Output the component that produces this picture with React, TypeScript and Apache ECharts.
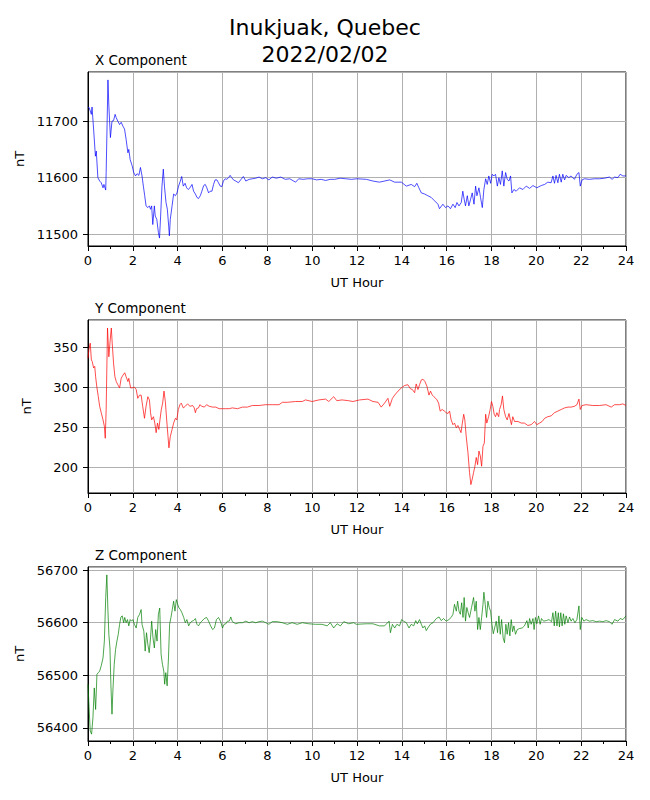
import React, { useEffect, useRef } from "react";
import * as echarts from "echarts";

const mainTitle = ["Inukjuak, Quebec", "2022/02/02"];
const panelTitles = ["X Component", "Y Component", "Z Component"];
const xAxisName = "UT Hour";
const yAxisName = "nT";
const hourRange = [0, 24];
const hourStep = 2;
const yRanges = [
  [11479, 11787],
  [167.5, 384],
  [56375, 56706],
];
const ySteps = [100, 50, 100];
const colors = ["#0000ff", "#ff0000", "#008000"];

// [UT hour, nT]
const xComponent = [
  [0, 11724], [0.05, 11724], [0.15, 11712], [0.18, 11725], [0.25, 11686], [0.33, 11638], [0.37, 11647], [0.44, 11600],
  [0.52, 11594], [0.59, 11591], [0.67, 11582], [0.71, 11588], [0.79, 11578], [0.81, 11609], [0.89, 11773], [0.93, 11727],
  [1.0, 11671], [1.07, 11700], [1.14, 11701], [1.21, 11712], [1.26, 11706], [1.33, 11700], [1.41, 11694], [1.48, 11698],
  [1.56, 11691], [1.63, 11686], [1.7, 11668], [1.78, 11644], [1.82, 11650], [1.88, 11632], [1.97, 11621], [2.04, 11609],
  [2.12, 11603], [2.19, 11607], [2.27, 11604], [2.34, 11618], [2.41, 11603], [2.47, 11585], [2.53, 11568], [2.59, 11550],
  [2.67, 11547], [2.74, 11550], [2.79, 11544], [2.84, 11550], [2.89, 11517], [2.96, 11550], [3.0, 11532], [3.07, 11526],
  [3.14, 11503], [3.19, 11493], [3.24, 11532], [3.3, 11585], [3.36, 11615], [3.41, 11585], [3.48, 11556], [3.54, 11544],
  [3.6, 11514], [3.63, 11497], [3.67, 11526], [3.75, 11550], [3.82, 11571], [3.9, 11568], [3.97, 11573], [4.04, 11585],
  [4.12, 11594], [4.18, 11602], [4.25, 11585], [4.33, 11590], [4.4, 11582], [4.47, 11579], [4.55, 11582], [4.64, 11588],
  [4.71, 11576], [4.79, 11571], [4.86, 11565], [4.93, 11563], [5.01, 11568], [5.08, 11576], [5.16, 11586], [5.23, 11588],
  [5.3, 11582], [5.38, 11573], [5.45, 11576], [5.53, 11576], [5.6, 11588], [5.67, 11596], [5.75, 11596], [5.82, 11591],
  [5.9, 11585], [5.97, 11584], [6.04, 11594], [6.12, 11598], [6.19, 11597], [6.27, 11600], [6.34, 11604], [6.41, 11600],
  [6.49, 11596], [6.59, 11594], [6.71, 11591], [6.81, 11596], [6.93, 11602], [7.04, 11594], [7.19, 11597], [7.33, 11598],
  [7.48, 11599], [7.63, 11601], [7.78, 11598], [7.93, 11600], [8.07, 11596], [8.22, 11601], [8.4, 11599], [8.6, 11601],
  [8.8, 11597], [9.0, 11598], [9.26, 11592], [9.4, 11598], [9.6, 11597], [9.8, 11598], [10.0, 11598], [10.2, 11596],
  [10.4, 11597], [10.6, 11595], [10.8, 11597], [11.0, 11597], [11.25, 11599], [11.5, 11598], [11.75, 11597], [12.0, 11598],
  [12.42, 11597], [12.71, 11594], [13.0, 11592], [13.46, 11596], [13.68, 11592], [13.98, 11592], [14.2, 11585], [14.42, 11588],
  [14.57, 11584], [14.67, 11590], [14.76, 11582], [14.87, 11573], [15.02, 11571], [15.16, 11568], [15.31, 11565], [15.46, 11559],
  [15.61, 11553], [15.68, 11545], [15.83, 11553], [15.95, 11547], [16.06, 11550], [16.17, 11545], [16.28, 11553], [16.38, 11547],
  [16.46, 11556], [16.55, 11550], [16.65, 11556], [16.72, 11576], [16.78, 11562], [16.84, 11550], [16.92, 11568], [16.99, 11550],
  [17.07, 11562], [17.14, 11573], [17.22, 11553], [17.29, 11585], [17.35, 11568], [17.44, 11582], [17.51, 11565], [17.59, 11547],
  [17.66, 11579], [17.74, 11598], [17.81, 11588], [17.88, 11603], [17.96, 11590], [18.03, 11606], [18.11, 11603], [18.18, 11606],
  [18.26, 11585], [18.33, 11600], [18.4, 11588], [18.48, 11612], [18.55, 11585], [18.63, 11609], [18.7, 11597], [18.78, 11594],
  [18.85, 11603], [18.91, 11573], [19.0, 11579], [19.1, 11576], [19.25, 11582], [19.4, 11579], [19.55, 11585], [19.7, 11581],
  [19.85, 11586], [20.02, 11582], [20.22, 11586], [20.37, 11588], [20.51, 11592], [20.66, 11591], [20.74, 11603], [20.81, 11590],
  [20.88, 11604], [20.96, 11591], [21.03, 11606], [21.11, 11592], [21.18, 11606], [21.26, 11596], [21.33, 11604], [21.45, 11600],
  [21.55, 11603], [21.7, 11597], [21.81, 11606], [21.9, 11609], [21.96, 11585], [22.04, 11596], [22.15, 11598], [22.37, 11597],
  [22.59, 11598], [22.82, 11598], [23.04, 11599], [23.26, 11601], [23.38, 11597], [23.49, 11601], [23.64, 11600], [23.74, 11606],
  [23.86, 11603], [24.0, 11603],
];

const yComponent = [
  [0, 336], [0.04, 347], [0.1, 355], [0.15, 334], [0.19, 332], [0.25, 324], [0.3, 326], [0.34, 313], [0.4, 299], [0.46, 288],
  [0.52, 276], [0.59, 268], [0.67, 259], [0.73, 251], [0.77, 236], [0.81, 272], [0.87, 374], [0.93, 338], [0.99, 359], [1.04, 374],
  [1.08, 355], [1.14, 330], [1.2, 313], [1.26, 307], [1.33, 303], [1.41, 299], [1.48, 311], [1.56, 315], [1.64, 318], [1.7, 313],
  [1.78, 307], [1.82, 311], [1.9, 299], [1.97, 299], [2.07, 300], [2.15, 297], [2.22, 286], [2.3, 290], [2.37, 290], [2.44, 276],
  [2.52, 261], [2.59, 276], [2.67, 288], [2.74, 284], [2.79, 268], [2.84, 259], [2.92, 263], [2.98, 255], [3.04, 243], [3.1, 255],
  [3.16, 247], [3.21, 259], [3.27, 272], [3.33, 280], [3.39, 295], [3.45, 282], [3.51, 259], [3.57, 238], [3.61, 224], [3.67, 238],
  [3.75, 247], [3.82, 255], [3.9, 261], [3.96, 259], [4.03, 272], [4.1, 278], [4.16, 280], [4.25, 274], [4.34, 276], [4.44, 279],
  [4.55, 276], [4.67, 277], [4.74, 274], [4.79, 268], [4.84, 273], [4.93, 274], [4.99, 278], [5.08, 276], [5.19, 275], [5.29, 278],
  [5.41, 276], [5.56, 275], [5.7, 275], [5.85, 273], [6.0, 273], [6.15, 273], [6.3, 273], [6.44, 274], [6.67, 273], [6.89, 275],
  [7.11, 275], [7.33, 277], [7.63, 277], [7.93, 278], [8.22, 278], [8.52, 278], [8.67, 281], [8.89, 281], [9.26, 282], [9.56, 282],
  [9.7, 284], [10.0, 282], [10.3, 284], [10.6, 285], [10.74, 282], [10.96, 288], [11.1, 283], [11.33, 284], [11.63, 283], [11.82, 282],
  [12.12, 284], [12.49, 285], [12.71, 282], [12.94, 281], [13.08, 275], [13.23, 280], [13.38, 286], [13.46, 276], [13.58, 286], [13.68, 290],
  [13.83, 295], [13.98, 299], [14.12, 302], [14.27, 303], [14.38, 298], [14.47, 297], [14.57, 293], [14.64, 304], [14.72, 297], [14.79, 303],
  [14.87, 309], [14.94, 310], [15.03, 307], [15.12, 301], [15.21, 290], [15.28, 295], [15.36, 290], [15.43, 288], [15.51, 286], [15.57, 284],
  [15.64, 280], [15.71, 270], [15.8, 272], [15.9, 270], [15.98, 268], [16.06, 267], [16.13, 270], [16.2, 259], [16.28, 253], [16.35, 255],
  [16.43, 249], [16.5, 252], [16.58, 247], [16.64, 243], [16.7, 255], [16.76, 266], [16.81, 259], [16.87, 239], [16.95, 218], [17.02, 193],
  [17.08, 178], [17.14, 185], [17.2, 193], [17.26, 201], [17.32, 212], [17.38, 203], [17.44, 220], [17.5, 214], [17.56, 201], [17.62, 226],
  [17.68, 230], [17.74, 266], [17.79, 255], [17.87, 263], [17.94, 272], [18.0, 282], [18.06, 276], [18.12, 266], [18.18, 263], [18.24, 268],
  [18.32, 263], [18.36, 272], [18.43, 278], [18.49, 289], [18.55, 272], [18.63, 263], [18.7, 259], [18.78, 267], [18.84, 259], [18.89, 253],
  [18.95, 263], [19.03, 257], [19.18, 257], [19.33, 255], [19.47, 255], [19.62, 252], [19.77, 253], [19.92, 257], [20.02, 253], [20.14, 255],
  [20.26, 257], [20.37, 261], [20.51, 263], [20.66, 264], [20.81, 268], [20.96, 270], [21.11, 272], [21.26, 274], [21.41, 275], [21.55, 275],
  [21.7, 276], [21.81, 278], [21.9, 285], [21.96, 272], [22.04, 277], [22.22, 278], [22.52, 277], [22.82, 277], [23.11, 278], [23.34, 275],
  [23.49, 278], [23.71, 278], [23.86, 279], [24.0, 277],
];

const zComponent = [
  [0, 56483], [0.04, 56445], [0.1, 56394], [0.16, 56388], [0.22, 56419], [0.28, 56476], [0.34, 56435], [0.4, 56502], [0.46, 56505],
  [0.52, 56508], [0.59, 56518], [0.67, 56533], [0.73, 56565], [0.79, 56648], [0.84, 56691], [0.89, 56622], [0.93, 56578], [0.98, 56552],
  [1.02, 56483], [1.07, 56426], [1.11, 56470], [1.17, 56521], [1.23, 56549], [1.29, 56565], [1.35, 56578], [1.41, 56597], [1.47, 56611],
  [1.53, 56613], [1.59, 56600], [1.64, 56610], [1.7, 56600], [1.76, 56606], [1.82, 56594], [1.88, 56606], [1.94, 56603], [2.0, 56606],
  [2.07, 56597], [2.15, 56590], [2.22, 56610], [2.3, 56616], [2.37, 56625], [2.41, 56597], [2.49, 56584], [2.55, 56546], [2.61, 56581],
  [2.67, 56559], [2.73, 56543], [2.79, 56571], [2.84, 56603], [2.9, 56571], [2.96, 56552], [3.02, 56587], [3.08, 56565], [3.14, 56616],
  [3.2, 56628], [3.26, 56540], [3.32, 56521], [3.38, 56508], [3.42, 56483], [3.47, 56505], [3.53, 56480], [3.59, 56533], [3.64, 56597],
  [3.7, 56610], [3.76, 56625], [3.82, 56641], [3.88, 56622], [3.94, 56644], [4.0, 56635], [4.06, 56628], [4.12, 56625], [4.19, 56619],
  [4.27, 56610], [4.34, 56600], [4.41, 56606], [4.49, 56594], [4.56, 56600], [4.64, 56603], [4.71, 56604], [4.79, 56608], [4.86, 56597],
  [4.93, 56594], [5.01, 56600], [5.08, 56603], [5.19, 56608], [5.29, 56610], [5.38, 56603], [5.47, 56594], [5.56, 56587], [5.64, 56590],
  [5.73, 56606], [5.82, 56610], [5.91, 56603], [6.0, 56590], [6.07, 56597], [6.15, 56598], [6.22, 56603], [6.3, 56603], [6.37, 56611],
  [6.44, 56602], [6.59, 56598], [6.74, 56600], [6.89, 56600], [7.04, 56603], [7.19, 56600], [7.33, 56602], [7.48, 56600], [7.63, 56602],
  [7.78, 56603], [7.93, 56600], [8.07, 56597], [8.22, 56602], [8.44, 56602], [8.67, 56600], [8.89, 56597], [9.11, 56600], [9.33, 56597],
  [9.56, 56600], [9.85, 56598], [10.15, 56597], [10.44, 56597], [10.67, 56594], [10.81, 56600], [10.96, 56590], [11.11, 56598],
  [11.26, 56594], [11.41, 56602], [11.63, 56598], [11.85, 56600], [11.97, 56597], [12.42, 56598], [12.71, 56598], [13.0, 56594],
  [13.23, 56594], [13.43, 56603], [13.49, 56581], [13.58, 56597], [13.68, 56590], [13.78, 56597], [13.9, 56594], [13.99, 56606],
  [14.08, 56603], [14.2, 56600], [14.32, 56590], [14.42, 56597], [14.53, 56594], [14.62, 56604], [14.69, 56598], [14.79, 56606],
  [14.87, 56597], [14.94, 56590], [15.02, 56594], [15.09, 56585], [15.16, 56590], [15.27, 56597], [15.39, 56600], [15.54, 56608],
  [15.66, 56611], [15.76, 56604], [15.86, 56608], [15.98, 56603], [16.1, 56606], [16.2, 56610], [16.28, 56616], [16.35, 56635],
  [16.43, 56622], [16.49, 56641], [16.55, 56622], [16.61, 56616], [16.67, 56638], [16.73, 56610], [16.78, 56648], [16.84, 56603],
  [16.9, 56629], [16.96, 56619], [17.02, 56610], [17.11, 56629], [17.2, 56648], [17.26, 56622], [17.32, 56641], [17.38, 56587],
  [17.44, 56610], [17.5, 56587], [17.56, 56610], [17.62, 56635], [17.66, 56658], [17.72, 56635], [17.78, 56610], [17.84, 56641],
  [17.9, 56629], [17.96, 56622], [18.02, 56597], [18.08, 56579], [18.14, 56590], [18.21, 56603], [18.27, 56581], [18.33, 56613],
  [18.39, 56578], [18.45, 56606], [18.52, 56571], [18.58, 56562], [18.64, 56597], [18.7, 56578], [18.76, 56600], [18.82, 56575],
  [18.88, 56606], [18.94, 56583], [19.0, 56594], [19.07, 56578], [19.15, 56587], [19.25, 56589], [19.37, 56590], [19.47, 56594],
  [19.58, 56604], [19.64, 56590], [19.7, 56608], [19.77, 56597], [19.85, 56608], [19.9, 56587], [19.96, 56610], [20.02, 56598],
  [20.1, 56613], [20.17, 56597], [20.23, 56608], [20.32, 56603], [20.44, 56604], [20.56, 56606], [20.68, 56602], [20.74, 56619],
  [20.8, 56594], [20.86, 56622], [20.92, 56594], [20.98, 56619], [21.03, 56592], [21.09, 56619], [21.15, 56594], [21.21, 56617],
  [21.27, 56597], [21.33, 56613], [21.41, 56600], [21.48, 56611], [21.55, 56603], [21.63, 56608], [21.72, 56600], [21.81, 56606],
  [21.9, 56632], [21.96, 56587], [22.03, 56610], [22.12, 56603], [22.22, 56606], [22.37, 56603], [22.52, 56604], [22.67, 56602],
  [22.82, 56603], [22.97, 56602], [23.11, 56604], [23.26, 56602], [23.38, 56597], [23.49, 56606], [23.64, 56603], [23.74, 56608],
  [23.86, 56606], [24.0, 56613],
];

const seriesData = [xComponent, yComponent, zComponent];

const FONT = "DejaVu Sans";
const gridTops = [72, 320, 567];
const gridHeights = [174, 173, 174];

export default function App() {
  const ref = useRef<HTMLDivElement>(null);

  useEffect(() => {
    if (!ref.current) return;
    const chart = echarts.init(ref.current, null, { renderer: "svg" });
    const textBase = { color: "#000", fontFamily: FONT, fontSize: 13 };

    const option = {
      animation: false,
      backgroundColor: "#fff",
      title: panelTitles.map((t, i) => ({
        text: t,
        left: 95,
        top: gridTops[i] - 19,
        padding: 0,
        textStyle: { ...textBase, fontSize: 13.5, fontWeight: "normal" },
      })),
      graphic: [
        {
          type: "text",
          x: 325,
          y: 27,
          style: { text: mainTitle[0], fill: "#000", font: `22px '${FONT}'`, textAlign: "center", textVerticalAlign: "middle" },
        },
        {
          type: "text",
          x: 325,
          y: 54,
          style: { text: mainTitle[1], fill: "#000", font: `22px '${FONT}'`, textAlign: "center", textVerticalAlign: "middle" },
        },
      ],
      grid: gridTops.map((top, i) => ({
        left: 88,
        width: 538,
        top,
        height: gridHeights[i],
        show: true,
        borderColor: "#000",
        borderWidth: 1,
        backgroundColor: "transparent",
        containLabel: false,
      })),
      xAxis: gridTops.map((_, i) => ({
        type: "value",
        gridIndex: i,
        min: hourRange[0],
        max: hourRange[1],
        interval: hourStep,
        name: xAxisName,
        nameLocation: "middle",
        nameGap: 30,
        nameTextStyle: { ...textBase },
        axisLine: { show: true, onZero: false, lineStyle: { color: "#000", width: 1 } },
        axisTick: { show: true, length: 5, lineStyle: { color: "#000", width: 1 } },
        minorTick: { show: true, splitNumber: 2, length: 3, lineStyle: { color: "#000", width: 1 } },
        axisLabel: { ...textBase, margin: 8, formatter: (v: number) => String(v) },
        splitLine: { show: true, lineStyle: { color: "#b0b0b0", width: 1 } },
      })),
      yAxis: gridTops.map((_, i) => ({
        type: "value",
        gridIndex: i,
        min: yRanges[i][0],
        max: yRanges[i][1],
        minInterval: ySteps[i],
        maxInterval: ySteps[i],
        name: yAxisName,
        nameLocation: "middle",
        nameGap: 55,
        nameTextStyle: { ...textBase },
        axisLine: { show: true, onZero: false, lineStyle: { color: "#000", width: 1 } },
        axisTick: { show: true, length: 5, lineStyle: { color: "#000", width: 1 } },
        axisLabel: {
          ...textBase,
          margin: 10,
          showMinLabel: false,
          showMaxLabel: false,
          formatter: (v: number) => String(v),
        },
        splitLine: { show: true, lineStyle: { color: "#b0b0b0", width: 1 } },
      })),
      series: seriesData.map((d, i) => ({
        type: "line",
        xAxisIndex: i,
        yAxisIndex: i,
        data: d,
        symbol: "none",
        showSymbol: false,
        silent: true,
        clip: true,
        lineStyle: { color: colors[i], width: 0.7 },
        itemStyle: { color: colors[i] },
      })),
    };

    chart.setOption(option as any);
    return () => chart.dispose();
  }, []);

  return (
    <div
      ref={ref}
      style={{ position: "fixed", left: 0, top: 0, width: 650, height: 800, background: "#fff" }}
    />
  );
}
